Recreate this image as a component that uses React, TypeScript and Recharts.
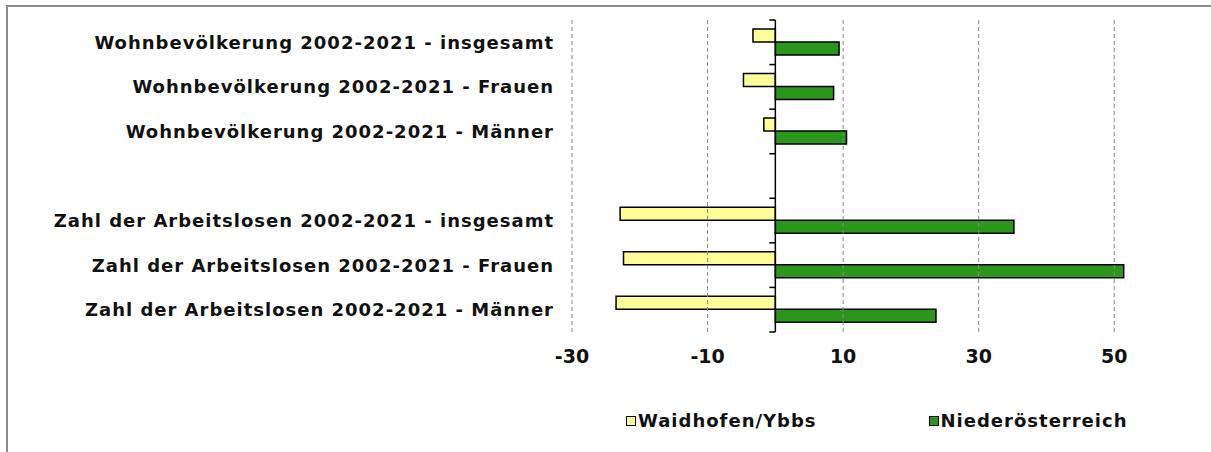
import { BarChart, Bar, XAxis, YAxis, Legend, ReferenceLine } from "recharts";

const categories = [
  "Wohnbevölkerung 2002-2021 - insgesamt",
  "Wohnbevölkerung 2002-2021 - Frauen",
  "Wohnbevölkerung 2002-2021 - Männer",
  "",
  "Zahl der Arbeitslosen 2002-2021 - insgesamt",
  "Zahl der Arbeitslosen 2002-2021 - Frauen",
  "Zahl der Arbeitslosen 2002-2021 - Männer",
];
const seriesNames = ["Waidhofen/Ybbs", "Niederösterreich"];
const waidhofen = [-3.3, -4.7, -1.7, null, -22.9, -22.4, -23.5];
const noe = [9.4, 8.6, 10.5, null, 35.2, 51.4, 23.7];
const xTicks = [-30, -10, 10, 30, 50];

const data = categories.map((name, i) => ({ name, waidhofen: waidhofen[i], noe: noe[i] }));

const FONT = "'DejaVu Sans', sans-serif";

// zero axis line with category tick marks (Excel style)
function ZeroAxis(props: any) {
  const { x1, y1, x2, y2 } = props;
  const n = categories.length;
  const step = (y2 - y1) / n;
  const ticks = [];
  for (let i = 0; i <= n; i++) {
    const y = y1 + i * step;
    ticks.push(<line key={i} x1={x1 - 6} x2={x1} y1={y} y2={y} stroke="#000" strokeWidth={1.5} />);
  }
  return (
    <g>
      <line x1={x1} y1={y1} x2={x2} y2={y2} stroke="#000" strokeWidth={1.5} />
      {ticks}
    </g>
  );
}

function LegendContent({ payload }: any) {
  const items = [...(payload || [])].sort((a: any, b: any) => seriesNames.indexOf(a.value) - seriesNames.indexOf(b.value));
  return (
    <div style={{ display: "flex", alignItems: "center", fontFamily: FONT, fontWeight: "bold", fontSize: 18, letterSpacing: 1 }}>
      {items.map((p: any, i: number) => (
        <div key={i} style={{ display: "flex", alignItems: "center", marginRight: i === 0 ? 112 : 0 }}>
          <span style={{ width: 8, height: 8, background: p.color, border: "1px solid #000", marginRight: 2, display: "inline-block" }} />
          <span style={{ color: "#111" }}>{p.value}</span>
        </div>
      ))}
    </div>
  );
}

export default function App() {
  return (
    <div style={{ position: "absolute", left: 0, top: 0, width: 1211, height: 452, background: "#fff" }}>
      <div style={{ position: "absolute", left: 6, top: 5, right: 0, bottom: 0, borderTop: "2px solid #8a8a8a", borderLeft: "2px solid #8a8a8a" }} />
      <div style={{ position: "absolute", left: 0, top: 0 }}>
        <BarChart
          width={1211}
          height={452}
          data={data}
          layout="vertical"
          margin={{ top: 20, right: 29, bottom: 80, left: 0 }}
          barCategoryGap="20%"
          barGap={0}
        >
          {xTicks.map(v => (
            <ReferenceLine key={v} x={v} stroke="#8a8a8a" strokeDasharray="4 3" />
          ))}
          <XAxis
            type="number"
            domain={[-30, 60]}
            ticks={xTicks}
            allowDataOverflow
            axisLine={false}
            tickLine={false}
            tickMargin={12}
            height={40}
            tick={{ fill: "#111", fontFamily: FONT, fontWeight: "bold", fontSize: 19 }}
          />
          <YAxis
            type="category"
            dataKey="name"
            width={572}
            axisLine={false}
            tickLine={false}
            tickMargin={12}
            interval={0}
            tick={{ fill: "#111", fontFamily: FONT, fontWeight: "bold", fontSize: 18, letterSpacing: 1 }}
          />
          <Bar dataKey="waidhofen" name={seriesNames[0]} fill="#ffff99" stroke="#000" strokeWidth={1.5} isAnimationActive={false} />
          <Bar dataKey="noe" name={seriesNames[1]} fill="#2a961a" stroke="#000" strokeWidth={1.5} isAnimationActive={false} />
          <ReferenceLine x={0} shape={ZeroAxis} />
          <Legend
            verticalAlign="middle"
            align="center"
            layout="horizontal"
            content={<LegendContent />}
            wrapperStyle={{ position: "absolute", left: 626, top: 410, width: "auto" }}
          />
        </BarChart>
      </div>
    </div>
  );
}
